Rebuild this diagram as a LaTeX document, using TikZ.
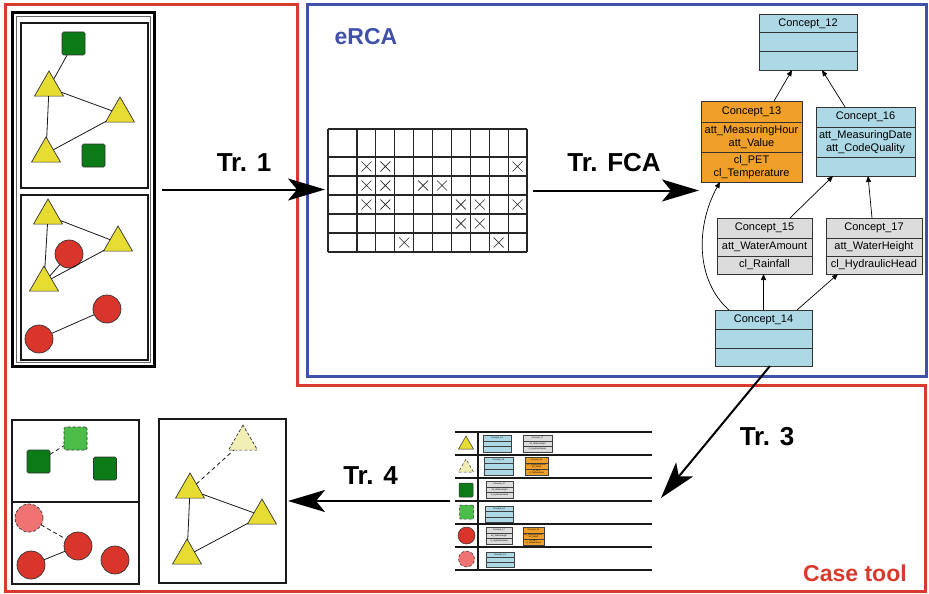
\documentclass[tikz,border=0pt]{standalone}
\usepackage{fontspec}
\setmainfont{Liberation Sans}
\usetikzlibrary{arrows.meta,shapes.geometric}
\definecolor{fred}{HTML}{D93A2E}
\definecolor{fblue}{HTML}{4052A8}
\definecolor{ylw}{HTML}{E6DC32}
\definecolor{lylw}{HTML}{F2EFB6}
\definecolor{dgrn}{HTML}{0B7A17}
\definecolor{lgrn}{HTML}{4DBD4A}
\definecolor{rcirc}{HTML}{D9352A}
\definecolor{pcirc}{HTML}{F07373}
\definecolor{cblue}{HTML}{ADD8E6}
\definecolor{corange}{HTML}{F0A028}
\definecolor{cgray}{HTML}{DCDCDC}
\newcommand\minicpt[9]{%
  \node[mini, fill=#6, minimum width=#4pt, minimum height=#5pt] (#1t) at (#2,#3) {#7};
  \node[mini, fill=#6, minimum width=#4pt, minimum height=#5pt] (#1a) at (#1t.south west) {#8};
  \node[mini, fill=#6, minimum width=#4pt, minimum height=#5pt] (#1c) at (#1a.south west) {#9};
}
\begin{document}
\begin{tikzpicture}[x=1pt,y=-1pt,
  tri/.style={regular polygon, regular polygon sides=3, minimum size=33.5pt, inner sep=0pt, outer sep=0pt, draw=black!80, line width=0.7pt, fill=ylw},
  sq/.style={rectangle, minimum size=23pt, inner sep=0pt, outer sep=0pt, draw=black!80, line width=0.7pt, fill=dgrn, rounded corners=1.5pt},
  circ/.style={circle, minimum size=28pt, inner sep=0pt, outer sep=0pt, draw=black!80, line width=0.7pt, fill=rcirc},
  dsh/.style={dash pattern=on 3pt off 2pt},
  link/.style={line width=0.8pt, black!90},
  dlink/.style={link, dash pattern=on 4pt off 3pt},
  panel/.style={draw=black!90, line width=1.1pt, anchor=north west, inner sep=0pt, outer sep=0pt},
  cpt/.style={draw=black!80, line width=0.7pt, anchor=north west, inner sep=0pt, outer sep=0pt, align=center, font=\fontsize{11}{12.5}\selectfont},
  mini/.style={draw=black!75, line width=0.4pt, anchor=north west, inner sep=0.2pt, outer sep=0pt, align=center, font=\fontsize{2.2}{2.4}\selectfont},
  lat/.style={-{Triangle[length=6pt,width=5pt]}, line width=0.7pt},
  big/.style={-{Stealth[length=37pt,width=22pt,inset=9pt]}, line width=2pt},
  lbl/.style={font=\bfseries\fontsize{26}{26}\selectfont, inner sep=0pt},
  gridl/.style={line width=1.2pt, black!85},
  xmark/.style={line width=0.6pt, black!85},
  tline/.style={line width=1.8pt, black!90}
]
\useasboundingbox (0,0) rectangle (929,594);
\fill[white] (0,0) rectangle (929,594);

% frames
\draw[fred, line width=3pt] (5,5) -- (297,5) -- (297,385.5) -- (925,385.5) -- (925,591.5) -- (5,591.5) -- cycle;
\draw[fblue, line width=3pt] (307,4.5) rectangle (926,376.5);
\node[text=fblue, font=\bfseries\fontsize{23}{23}\selectfont, inner sep=0pt] (ercalbl) at (366,37) {eRCA};
\node[text=fred, font=\bfseries\fontsize{23}{23}\selectfont, inner sep=0pt] (caselbl) at (855,573) {Case tool};

% input frame
\node[draw=black, line width=3pt, anchor=north west, inner sep=0pt, outer sep=0pt, minimum width=141.5pt, minimum height=353pt] (input) at (12.5,13) {};
\draw[black!60, line width=1pt] (16.5,17) rectangle (150,362);
\node[panel, minimum width=127pt, minimum height=165pt] (pin1) at (21,23) {};
\node[panel, minimum width=127pt, minimum height=165pt] (pin2) at (21,195) {};

% input panel 1
\node[sq] (s1) at (73.5,43.5) {};
\node[sq] (s2) at (93.5,155.5) {};
\node[tri] (t1) at (49,87.75) {};
\node[tri] (t2) at (120,113.75) {};
\node[tri] (t3) at (46,153.75) {};
\draw[link] (s1) -- (t1);
\draw[link] (t1) -- (t2);
\draw[link] (t1) -- (t3);
\draw[link] (t3) -- (t2);

% input panel 2
\node[tri] (ta) at (48,215.75) {};
\node[tri] (tb) at (118,242.75) {};
\node[circ] (ca) at (69,254) {};
\node[tri] (tc) at (44,282.75) {};
\node[circ] (cb) at (107,309) {};
\node[circ] (cc) at (39,339) {};
\draw[link] (ta) -- (tb);
\draw[link] (ta) -- (tc);
\draw[link] (tc) -- (tb);
\draw[link] (tc) -- (ca);
\draw[link] (cb) -- (cc);

% context grid
\node[anchor=north west, inner sep=0pt, outer sep=0pt, minimum width=199pt, minimum height=123pt] (ctx) at (328,129) {};
\foreach \xx in {328,357,375.89,394.78,413.67,432.56,451.44,470.33,489.22,508.11,527}
  \draw[gridl] (\xx,129) -- (\xx,252);
\foreach \yy in {129,157,176,195,214,233,252}
  \draw[gridl] (328,\yy) -- (527,\yy);
\foreach \rr/\cc in {1/1,1/2,1/9,2/1,2/2,2/4,2/5,3/1,3/2,3/6,3/7,3/9,4/6,4/7,5/3,5/8}
  \draw[xmark] ({366.44+18.89*(\cc-1)-5},{166.5+19*(\rr-1)-5}) -- ++(10,10)
               ({366.44+18.89*(\cc-1)-5},{166.5+19*(\rr-1)+5}) -- ++(10,-10);

% concept lattice
\node[cpt, fill=cblue, minimum width=98pt, minimum height=18.7pt] (c12t) at (759,14) {Concept\_12};
\node[cpt, fill=cblue, minimum width=98pt, minimum height=18.7pt] (c12a) at (c12t.south west) {};
\node[cpt, fill=cblue, minimum width=98pt, minimum height=18.7pt] (c12c) at (c12a.south west) {};

\node[cpt, fill=corange, minimum width=101pt, minimum height=21pt] (c13t) at (701,101) {Concept\_13};
\node[cpt, fill=corange, minimum width=101pt, minimum height=30pt] (c13a) at (c13t.south west) {att\_MeasuringHour\\att\_Value};
\node[cpt, fill=corange, minimum width=101pt, minimum height=30pt] (c13c) at (c13a.south west) {cl\_PET\\cl\_Temperature};

\node[cpt, fill=cblue, minimum width=99pt, minimum height=20pt] (c16t) at (816,107) {Concept\_16};
\node[cpt, fill=cblue, minimum width=99pt, minimum height=30pt] (c16a) at (c16t.south west) {att\_MeasuringDate\\att\_CodeQuality};
\node[cpt, fill=cblue, minimum width=99pt, minimum height=19pt] (c16c) at (c16a.south west) {};

\node[cpt, fill=cgray, minimum width=95pt, minimum height=20pt] (c15t) at (717,218) {Concept\_15};
\node[cpt, fill=cgray, minimum width=95pt, minimum height=18pt] (c15a) at (c15t.south west) {att\_WaterAmount};
\node[cpt, fill=cgray, minimum width=95pt, minimum height=18pt] (c15c) at (c15a.south west) {cl\_Rainfall};

\node[cpt, fill=cgray, minimum width=96pt, minimum height=20pt] (c17t) at (826,218) {Concept\_17};
\node[cpt, fill=cgray, minimum width=96pt, minimum height=18pt] (c17a) at (c17t.south west) {att\_WaterHeight};
\node[cpt, fill=cgray, minimum width=96pt, minimum height=18pt] (c17c) at (c17a.south west) {cl\_HydraulicHead};

\node[cpt, fill=cblue, minimum width=97pt, minimum height=19pt] (c14t) at (715,310) {Concept\_14};
\node[cpt, fill=cblue, minimum width=97pt, minimum height=19pt] (c14a) at (c14t.south west) {};
\node[cpt, fill=cblue, minimum width=97pt, minimum height=18pt] (c14c) at (c14a.south west) {};

\draw[lat] ([xshift=22.5pt]c13t.north) -- ([xshift=-16pt]c12c.south);
\draw[lat] ([xshift=-20.5pt]c16t.north) -- ([xshift=14pt]c12c.south);
\draw[lat] ([xshift=25.5pt]c15t.north) -- ([xshift=-32.5pt]c16c.south);
\draw[lat] ([xshift=-2pt]c17t.north) -- ([xshift=2.5pt]c16c.south);
\draw[lat] (c14t.north) -- (c14t.north |- c15c.south);
\draw[lat] ([xshift=33.5pt]c14t.north) -- ([xshift=-36pt]c17c.south);
\draw[lat] ([xshift=-34.5pt]c14t.north) .. controls (695,280) and (696,225) .. ([xshift=-31.5pt]c13c.south);

% table in case tool
\node[anchor=north west, inner sep=0pt, outer sep=0pt, minimum width=197pt, minimum height=138pt] (tbl) at (455,432) {};
\foreach \yy in {432,455,478,501,524,547,570}
  \draw[tline] (455,\yy) -- (652,\yy);
\draw[tline] (478,432) -- (478,571);

\node[tri, minimum size=17.3pt, line width=0.5pt] (i1) at (466,444.7) {};
\node[tri, minimum size=17.3pt, line width=0.5pt, fill=lylw, dsh] (i2) at (466,467.7) {};
\node[sq, minimum size=14pt, line width=0.5pt, rounded corners=1pt] (i3) at (466,490) {};
\node[sq, minimum size=14pt, line width=0.5pt, rounded corners=1pt, fill=lgrn, dsh] (i4) at (466.5,512) {};
\node[circ, minimum size=17pt, line width=0.5pt] (i5) at (466.5,535.5) {};
\node[circ, minimum size=16pt, line width=0.5pt, fill=pcirc, dsh] (i6) at (466.5,559) {};

\minicpt{m1b}{483}{435}{28}{5.7}{cblue}{Concept\_14}{}{}
\minicpt{m1g}{523}{435}{29}{5.7}{cgray}{Concept\_17}{att\_WaterHeight}{cl\_HydraulicHead}
\minicpt{m2b}{484}{457}{29}{6}{cblue}{Concept\_14}{}{}
\minicpt{m2o}{525}{457}{23}{6}{corange}{Concept\_13}{att\_MeasuringHour\\att\_Value}{cl\_PET\\cl\_Temperature}
\minicpt{m3g}{486}{481}{27}{5.7}{cgray}{Concept\_17}{att\_WaterHeight}{cl\_HydraulicHead}
\minicpt{m4b}{485}{506}{28}{5.4}{cblue}{Concept\_14}{}{}
\minicpt{m5g}{486}{527}{26}{5.7}{cgray}{Concept\_17}{att\_WaterHeight}{cl\_HydraulicHead}
\minicpt{m5o}{523}{527}{21}{6}{corange}{Concept\_13}{att\_MeasuringHour\\att\_Value}{cl\_PET\\cl\_Temperature}
\minicpt{m6b}{486}{552}{28}{5}{cblue}{Concept\_14}{}{}

% output panels
\node[panel, minimum width=127pt, minimum height=82pt] (outa) at (12,420) {};
\node[panel, minimum width=127pt, minimum height=82pt] (outb) at (12,502) {};
\node[panel, minimum width=127pt, minimum height=164pt] (bpr) at (159,419) {};

\node[sq] (g1) at (38.5,461.5) {};
\node[sq, fill=lgrn, dsh] (g2) at (75.5,438.5) {};
\node[sq] (g3) at (105,468.5) {};
\draw[dlink] (g1) -- (g2);

\node[circ, fill=pcirc, dsh] (r0) at (29,518) {};
\node[circ] (r1) at (78,546) {};
\node[circ] (r2) at (31,565) {};
\node[circ] (r3) at (115,560) {};
\draw[dlink] (r0) -- (r1);
\draw[link] (r2) -- (r1);

\node[tri, fill=lylw, dsh] (oy) at (243,441.75) {};
\node[tri] (o1) at (190,489.75) {};
\node[tri] (o2) at (262,515.75) {};
\node[tri] (o3) at (187,555.75) {};
\draw[dlink] (o1) -- (oy);
\draw[link] (o1) -- (o3);
\draw[link] (o1) -- (o2);
\draw[link] (o3) -- (o2);

% transformation arrows
\coordinate (fcaend) at (699,190.5);
\coordinate (tr3end) at (661,498);
\draw[big] ([xshift=8pt]input.east) -- ([xshift=-3pt]ctx.west |- input.east);
\draw[big] ([xshift=6pt]ctx.east) -- (fcaend);
\draw[big] ([xshift=6.5pt]c14c.south) -- (tr3end);
\draw[big] ([xshift=-5pt]tbl.west) -- ([xshift=2pt]bpr.east);

\node[lbl] (tr1) at (244,163) {Tr. 1};
\node[lbl] (trfca) at (614,163) {Tr. FCA};
\node[lbl] (tr3) at (767,437) {Tr. 3};
\node[lbl] (tr4) at (370.5,476) {Tr. 4};
\end{tikzpicture}
\end{document}
